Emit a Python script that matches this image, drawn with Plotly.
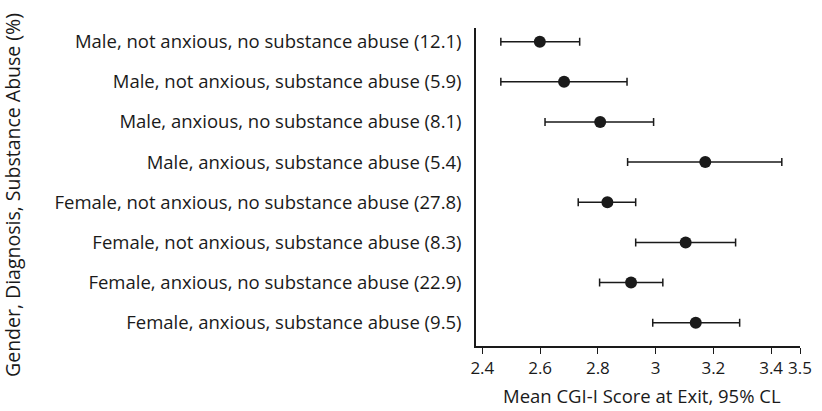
import plotly.graph_objects as go

labels = [
    "Male, not anxious, no substance abuse (12.1)",
    "Male, not anxious, substance abuse (5.9)",
    "Male, anxious, no substance abuse (8.1)",
    "Male, anxious, substance abuse (5.4)",
    "Female, not anxious, no substance abuse (27.8)",
    "Female, not anxious, substance abuse (8.3)",
    "Female, anxious, no substance abuse (22.9)",
    "Female, anxious, substance abuse (9.5)",
]
means = [2.599, 2.683, 2.808, 3.172, 2.833, 3.104, 2.915, 3.139]
lower = [2.464, 2.464, 2.617, 2.903, 2.732, 2.931, 2.806, 2.990]
upper = [2.737, 2.901, 2.993, 3.437, 2.931, 3.277, 3.025, 3.291]
xticks = [2.4, 2.6, 2.8, 3.0, 3.2, 3.4, 3.5]
xticklabels = ["2.4", "2.6", "2.8", "3", "3.2", "3.4", "3.5"]

err_plus = [u - m for u, m in zip(upper, means)]
err_minus = [m - l for m, l in zip(means, lower)]
ypos = list(range(len(labels)))

fig = go.Figure(go.Scatter(
    x=means, y=ypos, mode="markers",
    marker=dict(size=12, color="#1a1a1a"),
    error_x=dict(type="data", symmetric=False, array=err_plus, arrayminus=err_minus,
                 color="#1a1a1a", thickness=1.5, width=4),
    showlegend=False,
))

font_family = "Open Sans, Lato, sans-serif"
L, R, T, B = 476, 22, 28, 65
W, H = 822, 411
pw = W - L - R
ph = H - T - B
fig.update_layout(
    width=W, height=H,
    margin=dict(l=L, r=R, t=T, b=B),
    plot_bgcolor="white", paper_bgcolor="white",
    font=dict(family=font_family, size=16, color="#1a1a1a"),
    xaxis=dict(
        range=[2.378, 3.5], tickvals=xticks, ticktext=xticklabels,
        showline=True, linecolor="#1a1a1a", linewidth=1.5,
        ticks="outside", ticklen=6, tickwidth=1.2, tickcolor="#1a1a1a",
        tickfont=dict(size=17),
        showgrid=False, zeroline=False, automargin=False,
    ),
    yaxis=dict(
        range=[7.58, -0.34], tickvals=ypos, ticktext=labels,
        showline=True, linecolor="#1a1a1a", linewidth=1.5,
        ticks="outside", ticklen=9, tickcolor="rgba(0,0,0,0)",
        tickfont=dict(size=18.5),
        showgrid=False, zeroline=False, automargin=False,
    ),
    annotations=[
        dict(
            text="Gender, Diagnosis, Substance Abuse (%)", textangle=-90,
            xref="paper", yref="paper", x=(12 - L) / pw, y=(H - B - 195) / ph,
            xanchor="center", yanchor="middle", showarrow=False,
            font=dict(size=19.5),
        ),
        dict(
            text="Mean CGI-I Score at Exit, 95% CL",
            xref="paper", yref="paper", x=(642 - L) / pw, y=0, yshift=-49,
            xanchor="center", yanchor="middle", showarrow=False,
            font=dict(size=18.5),
        ),
    ],
)

fig.write_html("out.html", config={"displayModeBar": False},
               post_script="document.body.style.margin='0';")
